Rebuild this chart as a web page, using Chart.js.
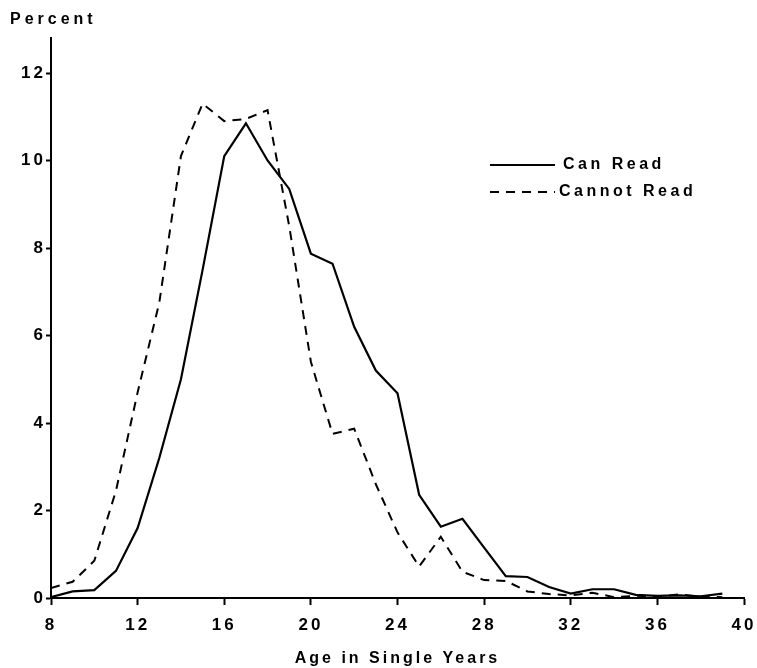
<!DOCTYPE html>
<html>
<head>
<meta charset="utf-8">
<script src="https://cdn.jsdelivr.net/npm/chart.js@4/dist/chart.umd.min.js"></script>
<style>
  html, body { margin: 0; padding: 0; background: #fff; }
  #wrap { width: 757px; height: 668px; position: relative; }
</style>
</head>
<body>
<div id="wrap"><canvas id="graph"></canvas></div>
<script>
// === DATA === //

const ages = [8, 9, 10, 11, 12, 13, 14, 15, 16, 17, 18, 19, 20, 21, 22, 23,
  24, 25, 26, 27, 28, 29, 30, 31, 32, 33, 34, 35, 36, 37, 38, 39]

const canRead = [0.02, 0.15, 0.18, 0.62, 1.6, 3.2, 5.0, 7.5, 10.1, 10.85, 10.0, 9.35,
  7.87, 7.64, 6.2, 5.2, 4.68, 2.36, 1.63, 1.81, 1.15, 0.5, 0.48, 0.25,
  0.1, 0.2, 0.2, 0.07, 0.05, 0.06, 0.04, 0.1]

const cannotRead = [0.23, 0.37, 0.85, 2.45, 4.7, 6.75, 10.1, 11.3, 10.9, 10.95, 11.15, 8.5,
  5.4, 3.75, 3.87, 2.6, 1.5, 0.72, 1.4, 0.6, 0.41, 0.39, 0.15, 0.09,
  0.06, 0.12, 0.02, 0.05, 0.03, 0.08, 0.03, 0.02]

const xTicks = [8, 12, 16, 20, 24, 28, 32, 36, 40]
const yTicks = [0, 2, 4, 6, 8, 10, 12]

const seriesNames = ["Can Read", "Cannot Read"]
const yTitle = "Percent"
const xTitle = "Age in Single Years"

// === UI === //

const fontFamily = "'Liberation Sans', Arial, Helvetica, sans-serif"

function toPoints(values) {
  return ages.map((age, i) => ({ x: age, y: values[i] }))
}

// wide letter spacing like the old printed figure
const spacingPlugin = {
  id: 'spacing',
  beforeUpdate(chart) { chart.ctx.letterSpacing = '3px' },
  beforeDraw(chart) { chart.ctx.letterSpacing = '3px' }
}

// "Percent" over the y axis and the legend inside the plot
const labelsPlugin = {
  id: 'labels',
  afterDraw(chart) {
    const ctx = chart.ctx
    ctx.save()
    ctx.fillStyle = '#000'
    ctx.letterSpacing = '4px'
    ctx.font = `bold 16px ${fontFamily}`
    ctx.textBaseline = 'middle'
    ctx.textAlign = 'left'
    ctx.fillText(yTitle, 10, 20)

    const x0 = 490, x1 = 555
    const rows = [165, 192]
    chart.data.datasets.forEach((ds, i) => {
      ctx.strokeStyle = ds.borderColor
      ctx.lineWidth = ds.borderWidth
      ctx.setLineDash(ds.borderDash || [])
      ctx.beginPath()
      ctx.moveTo(x0, rows[i])
      ctx.lineTo(x1, rows[i])
      ctx.stroke()
      ctx.setLineDash([])
      ctx.letterSpacing = '3.5px'
      ctx.fillText(ds.label, i == 0 ? 563 : 559, rows[i])
    })
    ctx.restore()
  }
}

const data = {
  datasets: [{
    label: seriesNames[0],
    data: toPoints(canRead),
    borderColor: '#000',
    borderWidth: 2.2,
    pointRadius: 0,
    tension: 0,
    fill: false
  }, {
    label: seriesNames[1],
    data: toPoints(cannotRead),
    borderColor: '#000',
    borderWidth: 2,
    borderDash: [9, 7],
    pointRadius: 0,
    tension: 0,
    fill: false
  }]
}

const tickFont = { family: fontFamily, size: 17, weight: 'bold' }
const titleFont = { family: fontFamily, size: 16, weight: 'bold' }

const config = {
  type: 'line',
  data,
  options: {
    responsive: true,
    maintainAspectRatio: false,
    animation: false,
    layout: { padding: { top: 38, right: 13, left: 0, bottom: 0 } },
    plugins: {
      legend: { display: false },
      tooltip: { enabled: false }
    },
    scales: {
      x: {
        type: 'linear',
        min: 8,
        max: 40,
        afterFit: s => { s.height = 70; s.paddingLeft = 0; s.paddingRight = 0 },
        afterBuildTicks: s => { s.ticks = xTicks.map(v => ({ value: v })) },
        grid: { drawOnChartArea: false, drawTicks: true, tickLength: 7, tickWidth: 2, color: '#000' },
        border: { display: true, color: '#000', width: 2 },
        ticks: { font: tickFont, color: '#000', padding: 10, maxRotation: 0 },
        title: {
          display: true,
          text: xTitle,
          font: titleFont,
          color: '#000',
          padding: { top: 12, bottom: 0 }
        }
      },
      y: {
        min: 0,
        max: 12.8,
        afterFit: s => { s.width = 51; s.paddingTop = 0; s.paddingBottom = 0 },
        afterBuildTicks: s => { s.ticks = yTicks.map(v => ({ value: v })) },
        grid: { drawOnChartArea: false, drawTicks: true, tickLength: 5, tickWidth: 2, color: '#000' },
        border: { display: true, color: '#000', width: 2 },
        ticks: { font: tickFont, color: '#000', padding: 0 }
      }
    }
  },
  plugins: [spacingPlugin, labelsPlugin]
}

const myChart = new Chart(document.getElementById('graph'), config)
</script>
</body>
</html>
